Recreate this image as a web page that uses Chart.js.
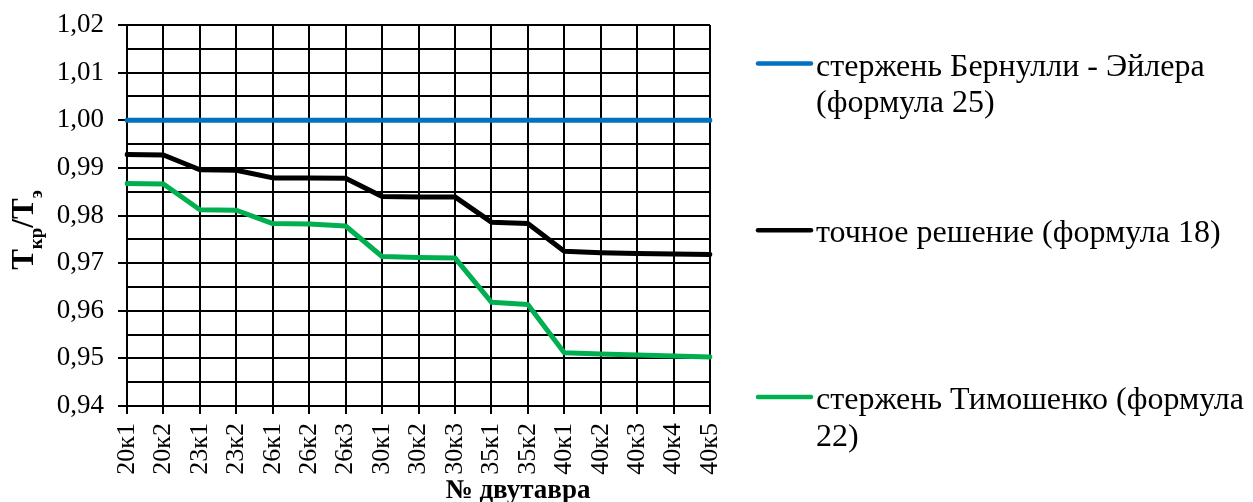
<!DOCTYPE html>
<html><head><meta charset="utf-8">
<script src="https://cdn.jsdelivr.net/npm/chart.js@4"></script>
<style>html,body{margin:0;padding:0;background:#fff;overflow:hidden}#wrap{width:1253px;height:502px;position:relative}</style>
</head><body><div id="wrap"><canvas id="c" width="1253" height="502"></canvas></div>
<script>
const categories = ['20к1','20к2','23к1','23к2','26к1','26к2','26к3','30к1','30к2','30к3','35к1','35к2','40к1','40к2','40к3','40к4','40к5'];
const bernoulliEuler = [1,1,1,1,1,1,1,1,1,1,1,1,1,1,1,1,1];
const exactSolution = [0.9928,0.9927,0.9896,0.9895,0.9879,0.9879,0.9878,0.9840,0.9839,0.9839,0.9786,0.9783,0.9725,0.9722,0.9720,0.9719,0.9718];
const timoshenko = [0.9867,0.9866,0.9812,0.9811,0.9783,0.9782,0.9778,0.9714,0.9712,0.9711,0.9618,0.9613,0.9512,0.9509,0.9507,0.9505,0.9503];
const seriesLabels = ['стержень Бернулли - Эйлера (формула 25)','точное решение (формула 18)','стержень Тимошенко (формула 22)'];
const seriesColors = ['#0070C0','#000000','#00B050'];
const yMin = 0.94, yMax = 1.02, yStep = 0.005;
const yTitleParts = [{t:'T',sub:false},{t:'кр',sub:true},{t:'/T',sub:false},{t:'э',sub:true}];
const xTitle = '№ двутавра';

const FONT = "'Liberation Serif','Times New Roman',serif";
Chart.defaults.font.family = FONT;
Chart.defaults.color = '#000';

function isMajor(v){ return Math.abs(Math.round(v*1000) % 10) === 0; }

const decor = {
  id:'decor',
  afterDraw(chart){
    const ctx = chart.ctx;
    ctx.save();
    ctx.fillStyle = '#000';
    // x title
    ctx.font = "bold 27px " + FONT;
    ctx.textAlign = 'center'; ctx.textBaseline = 'alphabetic';
    ctx.fillText(xTitle, 518, 498);
    // y title
    ctx.save();
    ctx.translate(33, 230); ctx.rotate(-Math.PI/2);
    const mainF = "bold 31px " + FONT, subF = "bold 19px " + FONT;
    let total = 0;
    const ws = yTitleParts.map(p => { ctx.font = p.sub ? subF : mainF; const w = ctx.measureText(p.t).width; total += w; return w; });
    let x = -total/2;
    ctx.textAlign = 'left';
    yTitleParts.forEach((p,i) => { ctx.font = p.sub ? subF : mainF; ctx.fillText(p.t, x, p.sub ? 9 : 0); x += ws[i]; });
    ctx.restore();
    // legend
    const x0 = 758, x1 = 811, tx = 816, y0 = 63.5, gap = 166.7, lh = 36.7;
    const maxW = chart.width - tx;
    ctx.font = "32px " + FONT;
    ctx.textAlign = 'left'; ctx.textBaseline = 'alphabetic';
    chart.data.datasets.forEach((ds,i) => {
      const y = y0 + i*gap;
      ctx.strokeStyle = ds.borderColor; ctx.lineWidth = 4.5; ctx.lineCap = 'round';
      ctx.beginPath(); ctx.moveTo(x0, y); ctx.lineTo(x1, y); ctx.stroke();
      const words = ds.label.split(' ');
      const lines = []; let cur = '';
      words.forEach(w => { const t = cur ? cur + ' ' + w : w; if (cur && ctx.measureText(t).width > maxW) { lines.push(cur); cur = w; } else cur = t; });
      if (cur) lines.push(cur);
      lines.forEach((ln,j) => ctx.fillText(ln, tx, y + 12 + j*lh));
    });
    ctx.restore();
  }
};

const datasets = [bernoulliEuler, exactSolution, timoshenko].map((d,i) => ({
  label: seriesLabels[i], data: d, borderColor: seriesColors[i], backgroundColor: seriesColors[i],
  borderWidth: 5, pointRadius: 0, tension: 0, borderCapStyle: 'round', borderJoinStyle: 'round', fill: false
}));

new Chart(document.getElementById('c'), {
  type: 'line',
  data: { labels: categories, datasets },
  options: {
    responsive: false, animation: false, devicePixelRatio: 1,
    layout: { padding: { left: 0, top: 25, right: 543, bottom: 0 } },
    plugins: { legend: { display: false }, tooltip: { enabled: false } },
    scales: {
      x: {
        type: 'category', offset: false,
        grid: { color: '#000', lineWidth: 2, tickLength: 8, tickColor: '#000', tickWidth: 2, offset: false },
        border: { color: '#000', width: 2 },
        ticks: { autoSkip: false, minRotation: 90, maxRotation: 90, padding: 9, color: '#000', font: { size: 26 } },
        afterFit(s){ s.height = 96; }
      },
      y: {
        min: yMin, max: yMax,
        grid: { color: '#000', lineWidth: 2, tickLength: 9, tickWidth: 2,
          tickColor: c => (c.tick && isMajor(c.tick.value)) ? '#000' : 'rgba(0,0,0,0)' },
        border: { color: '#000', width: 2 },
        ticks: { stepSize: yStep, autoSkip: false, padding: 14, color: '#000', font: { size: 27, lineHeight: 0.8 },
          callback: v => isMajor(v) ? v.toFixed(2).replace('.', ',') : '' },
        afterFit(s){ s.width = 127; }
      }
    }
  },
  plugins: [decor]
});
</script></body></html>
